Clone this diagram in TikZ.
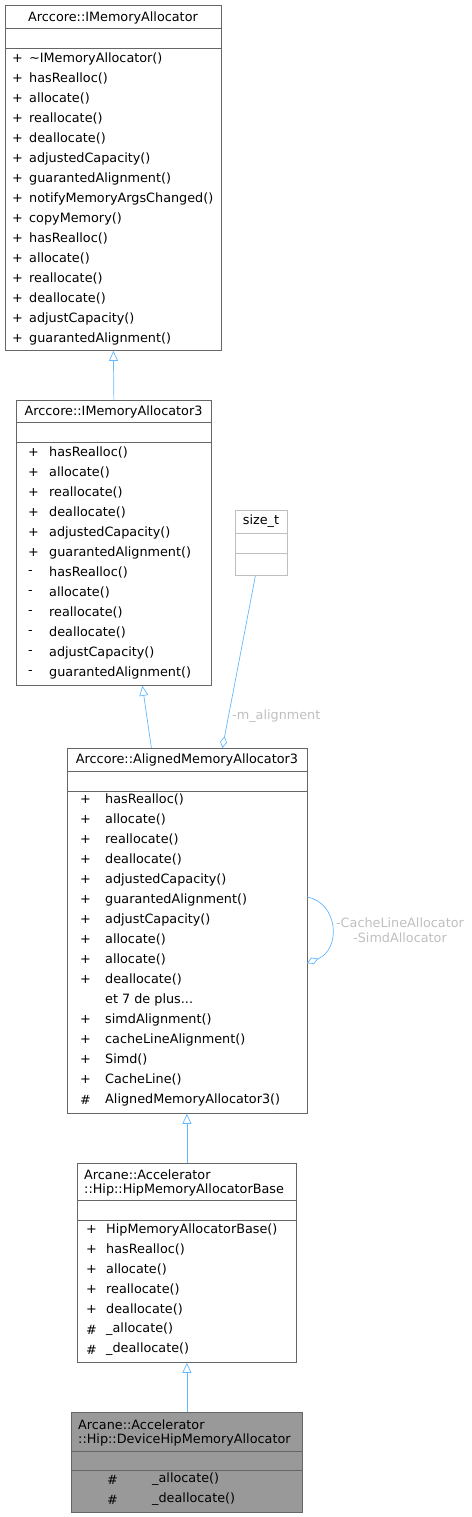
\documentclass[tikz,border=0pt]{standalone}
\usepackage{fontspec}
\setmainfont{DejaVu Sans}
\usetikzlibrary{arrows.meta,calc}
\definecolor{edgeblue}{HTML}{63B8FF}
\definecolor{boxgray}{HTML}{666666}
\definecolor{lightbox}{HTML}{BFBFBF}
\definecolor{labelgray}{HTML}{BFBFBF}
\definecolor{currentfill}{HTML}{999999}
\newcommand{\etplus}{et 7 de plus...}

\begin{document}
\begin{tikzpicture}[x=1pt,y=-1pt,font=\fontsize{12.8}{15}\selectfont,
	classbox/.style={draw=boxgray, fill=white, anchor=north west, inner sep=0pt, line width=0.8pt},
	member/.style={anchor=west, inner sep=0pt},
	inherit/.style={draw=edgeblue, line width=0.7pt, -{Triangle[open, length=10pt, width=9pt]}},
	usage/.style={draw=edgeblue, line width=0.7pt, -{Diamond[open, length=12pt, width=7pt]}},
	edgelabel/.style={text=labelgray, inner sep=0pt}]
	\useasboundingbox (0,0) rectangle (471,1517);

	% Arccore::IMemoryAllocator
	\node [classbox, minimum width=216pt, minimum height=345pt] (ima) at (5,5) {};
	\draw [boxgray, line width=0.8pt] (5,28) -- (221,28) (5,48) -- (221,48);
	\node (imatitle) at (113,17.5) {Arccore::IMemoryAllocator};
	\foreach \m [count=\i from 0] in {\textasciitilde IMemoryAllocator(), hasRealloc(), allocate(), reallocate(), deallocate(), adjustedCapacity(), guarantedAlignment(), notifyMemoryArgsChanged(), copyMemory(), hasRealloc(), allocate(), reallocate(), deallocate(), adjustCapacity(), guarantedAlignment()}
	{
		\node [member] at (12,58.5+20*\i) {+};
		\node [member] at (29,58.5+20*\i) {\m};
	}

	% Arccore::IMemoryAllocator3
	\node [classbox, minimum width=195pt, minimum height=285pt] (ima3) at (16,400) {};
	\draw [boxgray, line width=0.8pt] (16,422) -- (211,422) (16,442) -- (211,442);
	\node (ima3title) at (113.5,411.5) {Arccore::IMemoryAllocator3};
	\foreach \s/\m [count=\i from 0] in {+/hasRealloc(), +/allocate(), +/reallocate(), +/deallocate(), +/adjustedCapacity(), +/guarantedAlignment(), -/hasRealloc(), -/allocate(), -/reallocate(), -/deallocate(), -/adjustCapacity(), -/guarantedAlignment()}
	{
		\node [member] at (28,452.5+20*\i) {\s};
		\node [member] at (49,452.5+20*\i) {\m};
	}

	% size_t
	\node [classbox, draw=lightbox, minimum width=52pt, minimum height=65pt] (sizet) at (235,510) {};
	\draw [lightbox, line width=0.8pt] (235,533) -- (287,533) (235,553) -- (287,553);
	\node (sizettitle) at (261,521.5) {size\_t};

	% Arccore::AlignedMemoryAllocator3
	\node [classbox, minimum width=240pt, minimum height=365pt] (aligned) at (67,748) {};
	\draw [boxgray, line width=0.8pt] (67,771) -- (307,771) (67,791) -- (307,791);
	\node (alignedtitle) at (187,760) {Arccore::AlignedMemoryAllocator3};
	\foreach \s/\m [count=\i from 0] in {+/hasRealloc(), +/allocate(), +/reallocate(), +/deallocate(), +/adjustedCapacity(), +/guarantedAlignment(), +/adjustCapacity(), +/allocate(), +/allocate(), +/deallocate(), {}/\etplus, +/simdAlignment(), +/cacheLineAlignment(), +/Simd(), +/CacheLine(), \#/AlignedMemoryAllocator3()}
	{
		\node [member] at (80,799.5+20*\i) {\s};
		\node [member] at (105,799.5+20*\i) {\m};
	}

	% Arcane::Accelerator::Hip::HipMemoryAllocatorBase
	\node [classbox, minimum width=219pt, minimum height=199pt] (hipbase) at (77,1163) {};
	\draw [boxgray, line width=0.8pt] (77,1200) -- (296,1200) (77,1220) -- (296,1220);
	\node [member] at (84,1175) {Arcane::Accelerator};
	\node [member] at (84,1189.5) {::Hip::HipMemoryAllocatorBase};
	\foreach \s/\m [count=\i from 0] in {+/HipMemoryAllocatorBase(), +/hasRealloc(), +/allocate(), +/reallocate(), +/deallocate(), \#/\_allocate(), \#/\_deallocate()}
	{
		\node [member] at (86,1229.5+20*\i) {\s};
		\node [member] at (106,1229.5+20*\i) {\m};
	}

	% Arcane::Accelerator::Hip::DeviceHipMemoryAllocator
	\node [classbox, fill=currentfill, minimum width=231pt, minimum height=100pt] (device) at (71,1412) {};
	\draw [boxgray, line width=0.8pt] (71,1451) -- (302,1451) (71,1470) -- (302,1470);
	\node [member] at (78,1425) {Arcane::Accelerator};
	\node [member] at (78,1439.5) {::Hip::DeviceHipMemoryAllocator};
	\foreach \m [count=\i from 0] in {\_allocate(), \_deallocate()}
	{
		\node [member] at (107,1479.5+20*\i) {\#};
		\node [member] at (152,1479.5+20*\i) {\m};
	}

	% relations
	\draw [inherit] (ima3.north) -- (ima.south);
	\draw [inherit] ([xshift=-36pt]aligned.north) -- ([xshift=28.5pt]ima3.south);
	\draw [inherit] (hipbase.north) -- ([xshift=-0.5pt]aligned.south);
	\draw [inherit] (device.north) -- ([xshift=0pt]hipbase.south);
	\draw [usage] ([xshift=-6pt]sizet.south) -- ([xshift=35pt]aligned.north);
	\node [edgelabel, anchor=west] (malign) at (232,716) {-m\_alignment};
	\coordinate (loopout) at (307,897);
	\coordinate (loopin) at (307,963);
	\draw [usage] (loopout) .. controls (339,903) and (341,950) .. (loopin);
	\node [edgelabel, align=center] (looplabel) at (400,930) {-CacheLineAllocator\\-SimdAllocator};
\end{tikzpicture}
\end{document}
